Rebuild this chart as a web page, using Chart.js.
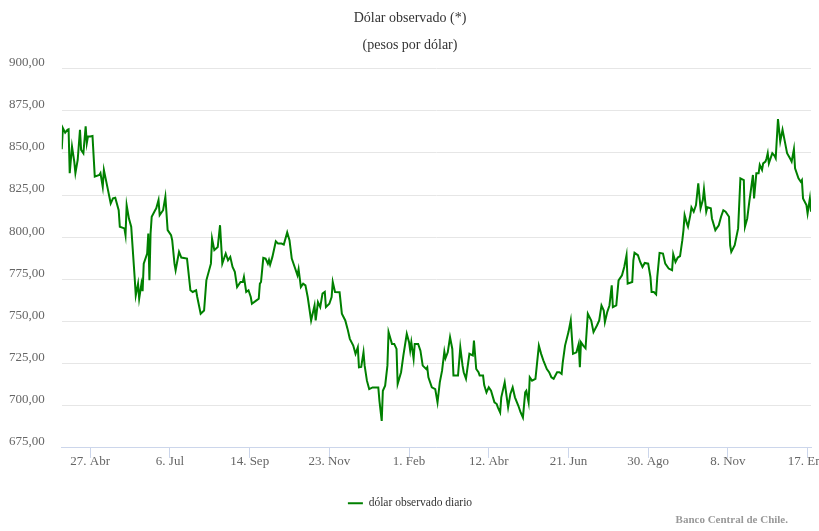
<!DOCTYPE html>
<html lang="es">
<head>
<meta charset="utf-8">
<title>Dólar observado</title>
<script src="https://cdn.jsdelivr.net/npm/chart.js@4.4.1/dist/chart.umd.min.js"></script>
<style>
  html, body { margin: 0; padding: 0; background: #ffffff; }
  #chart-box { position: relative; width: 819px; height: 531px; }
</style>
</head>
<body>
<div id="chart-box"><canvas id="dolar-chart"></canvas></div>
<script>
// serie diaria: días desde startDate y valor en pesos
const startDate = "2020-04-02";
const lastDay = 658;

const dayOffsets = [
  0, 1, 3, 5, 6, 7, 9, 11, 12, 14, 16, 17, 19, 21, 22, 23, 25, 27, 29, 33,
  34, 36, 37, 40, 43, 45, 47, 50, 51, 55, 56, 57, 59, 61, 64, 65, 67, 68, 70, 71,
  72, 75, 76, 77, 78, 79, 82, 83, 85, 86, 89, 91, 93, 96, 97, 99, 100, 103, 105, 110,
  113, 115, 118, 119, 122, 125, 127, 131, 132, 134, 137, 139, 141, 144, 146, 148, 150, 152, 154, 157,
  159, 160, 162, 164, 166, 167, 171, 173, 174, 175, 177, 179, 181, 182, 183, 185, 188, 190, 193, 195,
  198, 200, 202, 205, 207, 208, 210, 212, 214, 216, 219, 221, 222, 223, 225, 227, 229, 231, 232, 235,
  237, 238, 240, 244, 246, 249, 251, 253, 256, 258, 260, 261, 263, 265, 266, 268, 270, 273, 278, 279,
  281, 282, 284, 286, 287, 290, 292, 294, 295, 298, 300, 303, 305, 306, 307, 309, 310, 313, 315, 317,
  320, 321, 322, 325, 328, 330, 332, 334, 336, 337, 339, 341, 343, 344, 348, 350, 352, 353, 355, 358,
  361, 362, 364, 366, 367, 370, 371, 373, 375, 377, 380, 382, 383, 385, 386, 389, 392, 394, 396, 398,
  401, 403, 405, 407, 408, 410, 411, 413, 416, 419, 421, 423, 426, 428, 430, 432, 435, 437, 439, 440,
  442, 445, 447, 449, 452, 454, 455, 456, 458, 460, 462, 465, 467, 470, 472, 474, 476, 477, 479, 481,
  483, 484, 487, 489, 492, 494, 496, 497, 501, 502, 503, 506, 508, 510, 512, 515, 517, 518, 520, 522,
  523, 525, 528, 530, 533, 536, 537, 539, 541, 543, 545, 546, 547, 549, 550, 552, 553, 555, 557, 559,
  561, 563, 564, 566, 567, 570, 571, 574, 577, 579, 581, 583, 586, 587, 588, 591, 594, 596, 599, 600,
  602, 604, 605, 607, 608, 610, 612, 613, 615, 616, 618, 619, 620, 621, 624, 626, 627, 629, 631, 633,
  635, 637, 640, 641, 643, 644, 647, 649, 650, 651, 654, 655, 657, 658
];

const dolarValues = [
  852.2, 864.7, 862.0, 863.7, 864.0, 837.9, 853.8, 844.8, 838.0, 845.8, 863.7, 851.8, 849.8, 865.7, 855.8, 859.7, 859.7, 860.0, 835.9, 836.9,
  838.0, 829.9, 839.9, 830.0, 820.0, 823.0, 823.4, 816.0, 806.2, 805.2, 801.2, 819.0, 811.0, 806.2, 776.4, 765.5, 772.4, 763.5, 772.4, 768.0,
  784.3, 790.3, 802.2, 774.4, 802.2, 812.1, 816.0, 817.1, 822.0, 813.1, 816.0, 824.0, 804.2, 801.2, 798.2, 784.3, 780.4, 791.3, 787.9, 787.3,
  768.5, 767.5, 768.5, 764.5, 754.6, 756.5, 774.4, 784.3, 799.2, 792.3, 794.2, 807.1, 784.3, 790.3, 786.3, 788.3, 782.3, 779.4, 770.4, 773.4,
  773.4, 776.4, 767.5, 768.5, 764.5, 760.5, 762.5, 763.5, 772.4, 773.4, 787.7, 787.3, 784.3, 786.5, 783.7, 788.3, 797.6, 796.2, 796.2, 795.6,
  802.8, 798.2, 787.3, 781.4, 777.4, 781.0, 770.4, 772.4, 771.4, 764.5, 750.6, 756.5, 759.5, 750.6, 761.5, 758.5, 766.5, 767.5, 758.5, 760.5,
  764.5, 773.4, 767.5, 767.3, 754.6, 750.6, 745.6, 739.7, 735.7, 730.8, 734.7, 722.8, 723.0, 731.7, 723.8, 714.9, 709.9, 710.9, 710.9, 702.9,
  691.0, 708.9, 711.9, 723.8, 743.7, 736.7, 736.7, 733.7, 712.9, 719.9, 729.8, 742.7, 737.7, 732.7, 737.7, 727.8, 736.7, 736.7, 732.7, 723.8,
  721.8, 722.8, 716.9, 710.9, 709.9, 702.0, 713.9, 720.8, 732.1, 728.2, 731.7, 740.7, 733.7, 717.9, 717.9, 734.7, 723.8, 719.9, 716.0, 730.8,
  729.8, 738.7, 721.8, 719.9, 717.9, 717.9, 712.3, 707.9, 710.9, 708.9, 702.0, 701.0, 699.0, 696.0, 705.0, 713.9, 699.0, 707.0, 710.9, 705.0,
  700.0, 696.0, 693.0, 707.9, 708.9, 702.0, 716.9, 714.9, 716.0, 735.7, 730.8, 726.8, 721.8, 719.9, 716.9, 716.0, 719.9, 719.9, 718.9, 725.8,
  735.7, 743.7, 750.6, 730.8, 731.7, 736.7, 722.8, 737.7, 735.7, 734.1, 754.6, 750.6, 743.7, 747.6, 750.6, 759.5, 756.5, 749.6, 755.5, 759.5,
  771.4, 758.5, 759.5, 774.4, 777.4, 782.3, 789.3, 772.4, 773.4, 786.3, 790.7, 789.3, 785.3, 782.3, 784.7, 784.3, 776.4, 767.5, 767.5, 766.1,
  776.4, 790.7, 790.3, 784.3, 781.4, 780.4, 789.9, 785.3, 787.9, 788.7, 798.2, 804.2, 813.1, 808.2, 806.2, 813.1, 817.7, 815.1, 819.0, 832.0,
  817.1, 822.0, 828.4, 815.1, 817.7, 817.1, 811.1, 804.2, 807.1, 812.1, 816.0, 815.1, 812.1, 795.2, 791.3, 795.2, 805.2, 834.9, 833.9, 806.2,
  811.1, 822.0, 826.9, 836.9, 823.0, 837.9, 837.9, 842.9, 839.9, 843.8, 844.8, 846.8, 849.8, 843.8, 849.8, 848.2, 846.8, 870.0, 856.8, 863.7,
  856.8, 849.8, 846.2, 844.8, 852.2, 840.9, 834.9, 832.9, 833.9, 823.0, 819.0, 814.1, 823.0, 815.1
];

const tickDates = [
  "2020-04-27", "2020-07-06", "2020-09-14", "2020-11-23", "2021-02-01",
  "2021-04-12", "2021-06-21", "2021-08-30", "2021-11-08", "2022-01-17"
];
const tickLabels = [
  "27. Abr", "6. Jul", "14. Sep", "23. Nov", "1. Feb",
  "12. Abr", "21. Jun", "30. Ago", "8. Nov", "17. Ene"
];

const yMin = 675;
const yMax = 900;
const yStep = 25;

const chartTitle = "Dólar observado (*)";
const chartSubtitle = "(pesos por dólar)";
const seriesLabel = "dólar observado diario";
const creditText = "Banco Central de Chile.";

const yLabelGap = 17;

function dayNumber(isoDate) {
  return Math.round((Date.parse(isoDate) - Date.parse(startDate)) / 86400000);
}

const tickDays = tickDates.map(dayNumber);
const points = dayOffsets.map((day, i) => ({ x: day, y: dolarValues[i] }));

Chart.defaults.font.family = '"Liberation Serif", "Times New Roman", serif';

const creditPlugin = {
  id: "credit",
  afterDraw(chart) {
    const { ctx, width, height } = chart;
    ctx.save();
    ctx.font = 'bold 11px "Liberation Serif", "Times New Roman", serif';
    ctx.fillStyle = "#999999";
    ctx.textAlign = "right";
    ctx.textBaseline = "middle";
    ctx.fillText(creditText, width - 31, height - 11);
    ctx.restore();
  },
};

new Chart(document.getElementById("dolar-chart"), {
  type: "line",
  data: {
    datasets: [
      {
        label: seriesLabel,
        data: points,
        borderColor: "#008000",
        backgroundColor: "#008000",
        borderWidth: 2,
        pointRadius: 0,
        tension: 0,
        fill: false,
      },
    ],
  },
  options: {
    responsive: true,
    maintainAspectRatio: false,
    animation: false,
    events: [],
    layout: {
      padding: { left: 9, right: 8, top: 0, bottom: 12 },
    },
    scales: {
      x: {
        type: "linear",
        min: 0,
        max: lastDay,
        afterBuildTicks: (scale) => {
          scale.ticks = tickDays.map((value) => ({ value }));
        },
        afterFit: (scale) => {
          // let "17. Ene" run off the edge like the original, and leave room above the legend
          scale.paddingLeft = 0;
          scale.paddingRight = 0;
          scale.height += 22;
        },
        ticks: {
          autoSkip: false,
          maxRotation: 0,
          padding: -4,
          color: "#666666",
          font: { size: 13 },
          callback: (value) => {
            const i = tickDays.indexOf(value);
            return i >= 0 ? tickLabels[i] : "";
          },
        },
        grid: {
          drawOnChartArea: false,
          drawTicks: true,
          tickLength: 10,
          color: "#ccd6eb",
        },
        border: { color: "#ccd6eb" },
      },
      y: {
        min: yMin,
        max: yMax,
        afterFit: (scale) => {
          scale.width -= yLabelGap;
        },
        ticks: {
          stepSize: yStep,
          padding: yLabelGap,
          labelOffset: -6,
          color: "#666666",
          font: { size: 13 },
          callback: (value) => value.toFixed(2).replace(".", ","),
        },
        grid: { color: "#e6e6e6", drawTicks: false },
        border: { display: false },
      },
    },
    plugins: {
      title: {
        display: true,
        text: chartTitle,
        color: "#333333",
        font: { size: 14, weight: "normal" },
        padding: { top: 10, bottom: 10 },
      },
      subtitle: {
        display: true,
        text: chartSubtitle,
        color: "#333333",
        font: { size: 14, weight: "normal" },
        padding: { top: 0, bottom: 15 },
      },
      legend: {
        position: "bottom",
        labels: {
          usePointStyle: true,
          pointStyle: "line",
          pointStyleWidth: 15,
          color: "#333333",
          font: { size: 11.5 },
          padding: 10,
        },
      },
      tooltip: { enabled: false },
    },
  },
  plugins: [creditPlugin],
});
</script>
</body>
</html>
